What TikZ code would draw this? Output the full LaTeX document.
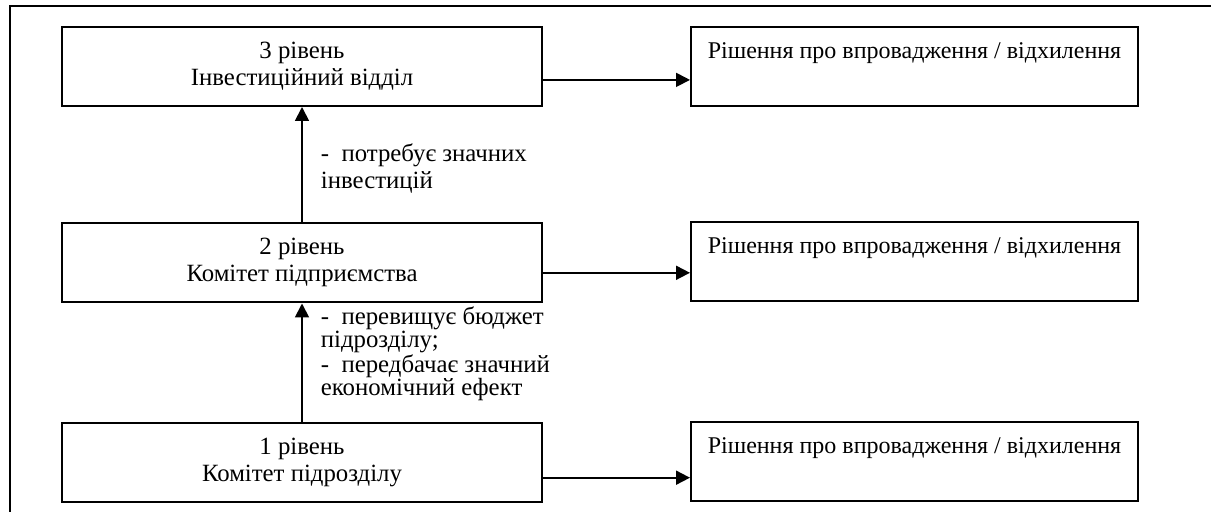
\documentclass[tikz,border=0pt]{standalone}
\usepackage{fontspec}
\setmainfont{Liberation Serif}
\usetikzlibrary{arrows.meta}

\tikzset{
    blok/.style={draw, line width=1pt, minimum width=240pt, minimum height=39.5pt,
        inner sep=0pt, align=center, font=\fontsize{12.4}{13.5}\selectfont},
    rishennia/.style={blok, minimum width=223.5pt, font=\fontsize{12}{13.5}\selectfont},
    strilka/.style={line width=0.9pt, -{Triangle[length=7pt,width=7pt]}},
    umova/.style={inner sep=0pt, align=left}
}

\begin{document}
\begin{tikzpicture}[x=0.5pt, y=-0.5pt]
    \useasboundingbox (0,0) rectangle (1211,512);
    \draw[line width=1pt] (9.5,530) |- (1230,6.5);
    \path node[blok] (L3) at (302,66.5) {\strut 3 рівень\\\strut Інвестиційний відділ}
        node[blok] (L2) at (302,263) {\strut 2 рівень\\\strut Комітет підприємства}
        node[blok] (L1) at (302,462.5) {\strut 1 рівень\\\strut Комітет підрозділу}
        node[rishennia] (R3) at (914.5,66.5) {\strut Рішення про впровадження / відхилення\\\strut}
        node[rishennia] (R2) at (914.5,261.5) {\strut Рішення про впровадження / відхилення\\\strut}
        node[rishennia] (R1) at (914.5,462) {\strut Рішення про впровадження / відхилення\\\strut};
    \draw[strilka] (L2.north) -- node[umova, right, xshift=9pt, yshift=-2.1pt,
        font=\fontsize{12.4}{13.5}\selectfont] {-\ \ потребує значних\\інвестицій} (L3.south);
    \draw[strilka] (L1.north) -- node[umova, right, xshift=9pt, yshift=4.4pt,
        font=\fontsize{12.4}{11.4}\selectfont] {-\ \ перевищує бюджет\\підрозділу;\\-\ \ передбачає значний\\економічний ефект} (L2.south);
    \coordinate (S3) at ([yshift=-6.7pt]L3.east);
    \coordinate (S2) at ([yshift=-4.9pt]L2.east);
    \coordinate (S1) at ([yshift=-7.6pt]L1.east);
    \draw[strilka] (S3) -- (S3 -| R3.west);
    \draw[strilka] (S2) -- (S2 -| R2.west);
    \draw[strilka] (S1) -- (S1 -| R1.west);
\end{tikzpicture}
\end{document}
